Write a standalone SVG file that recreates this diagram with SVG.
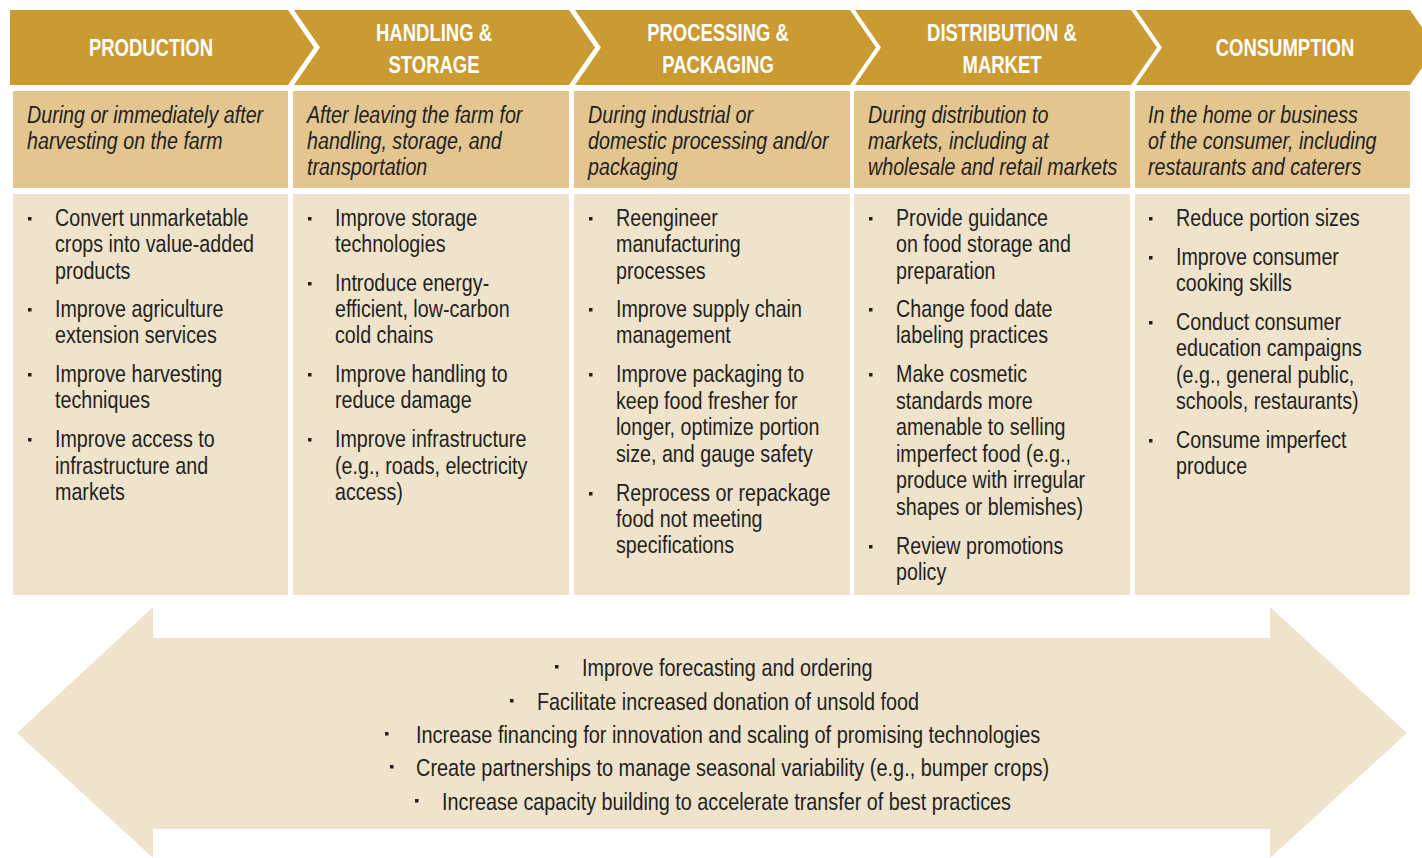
<svg xmlns="http://www.w3.org/2000/svg" width="1422" height="858" viewBox="0 0 1422 858">
<style>
.hdr{fill:#CA9A33}
.desc{fill:#E3C590}
.body{fill:#F0E3CB}
.ht{font-family:"Liberation Sans",Arial,sans-serif;font-weight:bold;font-size:24px;fill:#ffffff;text-anchor:middle}
.it{font-family:"Liberation Sans",Arial,sans-serif;font-style:italic;font-size:24px;fill:#231F20}
.bt{font-family:"Liberation Sans",Arial,sans-serif;font-size:24px;fill:#231F20}
.bl{fill:#231F20}
</style>
<rect width="1422" height="858" fill="#ffffff"/>
<g id="arrow-bottom">
<polygon class="body" points="17,733 153,607 153,638 1270,638 1270,607 1407,733 1270,858 1270,829 153,829 153,858"/>
<g class="bl">
<rect x="555" y="665" width="3.5" height="3.5"/><rect x="510" y="699" width="3.5" height="3.5"/><rect x="385" y="732" width="3.5" height="3.5"/><rect x="390" y="765" width="3.5" height="3.5"/><rect x="415" y="799" width="3.5" height="3.5"/>
</g>
<g transform="translate(582 0) scale(0.825 1)"><text class="bt" x="0" y="676">Improve forecasting and ordering</text></g>
<g transform="translate(537 0) scale(0.825 1)"><text class="bt" x="0" y="710">Facilitate increased donation of unsold food</text></g>
<g transform="translate(416 0) scale(0.83 1)"><text class="bt" x="0" y="743">Increase financing for innovation and scaling of promising technologies</text></g>
<g transform="translate(416 0) scale(0.83 1)"><text class="bt" x="0" y="776">Create partnerships to manage seasonal variability (e.g., bumper crops)</text></g>
<g transform="translate(442 0) scale(0.825 1)"><text class="bt" x="0" y="810">Increase capacity building to accelerate transfer of best practices</text></g>
</g>
<g id="col-production">
<polygon class="hdr" points="10,10 288,10 314,47.5 288,85 10,85"/>
<g transform="translate(151 0) scale(0.77 1)"><text class="ht" x="0" y="56">PRODUCTION</text></g>
<rect class="desc" x="13" y="91" width="275" height="97"/>
<g transform="translate(27 0) scale(0.82 1)">
<text class="it" x="0" y="123">During or immediately after</text>
<text class="it" x="0" y="149">harvesting on the farm</text>
</g>
<rect class="body" x="13" y="194" width="275" height="401"/>
<g class="bl"><rect x="28" y="217" width="3.5" height="3.5"/><rect x="28" y="308" width="3.5" height="3.5"/><rect x="28" y="373" width="3.5" height="3.5"/><rect x="28" y="438" width="3.5" height="3.5"/></g>
<g transform="translate(55 0) scale(0.82 1)">
<text class="bt" x="0" y="226">Convert unmarketable</text>
<text class="bt" x="0" y="252">crops into value-added</text>
<text class="bt" x="0" y="279">products</text>
<text class="bt" x="0" y="317">Improve agriculture</text>
<text class="bt" x="0" y="343">extension services</text>
<text class="bt" x="0" y="382">Improve harvesting</text>
<text class="bt" x="0" y="408">techniques</text>
<text class="bt" x="0" y="447">Improve access to</text>
<text class="bt" x="0" y="474">infrastructure and</text>
<text class="bt" x="0" y="500">markets</text>
</g>
</g>
<g id="col-handling">
<polygon class="hdr" points="294,10 569,10 595,47.5 569,85 294,85 320,47.5"/>
<g transform="translate(434 0) scale(0.77 1)">
<text class="ht" x="0" y="41">HANDLING &amp;</text>
<text class="ht" x="0" y="73">STORAGE</text>
</g>
<rect class="desc" x="293" y="91" width="276" height="97"/>
<g transform="translate(307 0) scale(0.82 1)">
<text class="it" x="0" y="123">After leaving the farm for</text>
<text class="it" x="0" y="149">handling, storage, and</text>
<text class="it" x="0" y="175">transportation</text>
</g>
<rect class="body" x="293" y="194" width="276" height="401"/>
<g class="bl"><rect x="308" y="217" width="3.5" height="3.5"/><rect x="308" y="282" width="3.5" height="3.5"/><rect x="308" y="373" width="3.5" height="3.5"/><rect x="308" y="438" width="3.5" height="3.5"/></g>
<g transform="translate(335 0) scale(0.82 1)">
<text class="bt" x="0" y="226">Improve storage</text>
<text class="bt" x="0" y="252">technologies</text>
<text class="bt" x="0" y="291">Introduce energy-</text>
<text class="bt" x="0" y="317">efficient, low-carbon</text>
<text class="bt" x="0" y="343">cold chains</text>
<text class="bt" x="0" y="382">Improve handling to</text>
<text class="bt" x="0" y="408">reduce damage</text>
<text class="bt" x="0" y="447">Improve infrastructure</text>
<text class="bt" x="0" y="474">(e.g., roads, electricity</text>
<text class="bt" x="0" y="500">access)</text>
</g>
</g>
<g id="col-processing">
<polygon class="hdr" points="575,10 850,10 876,47.5 850,85 575,85 601,47.5"/>
<g transform="translate(718 0) scale(0.77 1)">
<text class="ht" x="0" y="41">PROCESSING &amp;</text>
<text class="ht" x="0" y="73">PACKAGING</text>
</g>
<rect class="desc" x="574" y="91" width="276" height="97"/>
<g transform="translate(588 0) scale(0.82 1)">
<text class="it" x="0" y="123">During industrial or</text>
<text class="it" x="0" y="149">domestic processing and/or</text>
<text class="it" x="0" y="175">packaging</text>
</g>
<rect class="body" x="574" y="194" width="276" height="401"/>
<g class="bl"><rect x="589" y="217" width="3.5" height="3.5"/><rect x="589" y="308" width="3.5" height="3.5"/><rect x="589" y="373" width="3.5" height="3.5"/><rect x="589" y="492" width="3.5" height="3.5"/></g>
<g transform="translate(616 0) scale(0.82 1)">
<text class="bt" x="0" y="226">Reengineer</text>
<text class="bt" x="0" y="252">manufacturing</text>
<text class="bt" x="0" y="279">processes</text>
<text class="bt" x="0" y="317">Improve supply chain</text>
<text class="bt" x="0" y="343">management</text>
<text class="bt" x="0" y="382">Improve packaging to</text>
<text class="bt" x="0" y="409">keep food fresher for</text>
<text class="bt" x="0" y="435">longer, optimize portion</text>
<text class="bt" x="0" y="462">size, and gauge safety</text>
<text class="bt" x="0" y="501">Reprocess or repackage</text>
<text class="bt" x="0" y="527">food not meeting</text>
<text class="bt" x="0" y="553">specifications</text>
</g>
</g>
<g id="col-distribution">
<polygon class="hdr" points="855,10 1131,10 1157,47.5 1131,85 855,85 881,47.5"/>
<g transform="translate(1002 0) scale(0.77 1)">
<text class="ht" x="0" y="41">DISTRIBUTION &amp;</text>
<text class="ht" x="0" y="73">MARKET</text>
</g>
<rect class="desc" x="854" y="91" width="276" height="97"/>
<g transform="translate(868 0) scale(0.82 1)">
<text class="it" x="0" y="123">During distribution to</text>
<text class="it" x="0" y="149">markets, including at</text>
<text class="it" x="0" y="175">wholesale and retail markets</text>
</g>
<rect class="body" x="854" y="194" width="276" height="401"/>
<g class="bl"><rect x="869" y="217" width="3.5" height="3.5"/><rect x="869" y="308" width="3.5" height="3.5"/><rect x="869" y="373" width="3.5" height="3.5"/><rect x="869" y="545" width="3.5" height="3.5"/></g>
<g transform="translate(896 0) scale(0.82 1)">
<text class="bt" x="0" y="226">Provide guidance</text>
<text class="bt" x="0" y="252">on food storage and</text>
<text class="bt" x="0" y="279">preparation</text>
<text class="bt" x="0" y="317">Change food date</text>
<text class="bt" x="0" y="343">labeling practices</text>
<text class="bt" x="0" y="382">Make cosmetic</text>
<text class="bt" x="0" y="409">standards more</text>
<text class="bt" x="0" y="435">amenable to selling</text>
<text class="bt" x="0" y="462">imperfect food (e.g.,</text>
<text class="bt" x="0" y="488">produce with irregular</text>
<text class="bt" x="0" y="515">shapes or blemishes)</text>
<text class="bt" x="0" y="554">Review promotions</text>
<text class="bt" x="0" y="580">policy</text>
</g>
</g>
<g id="col-consumption">
<polygon class="hdr" points="1136,10 1410,10 1436,47.5 1410,85 1136,85 1162,47.5"/>
<g transform="translate(1285 0) scale(0.77 1)"><text class="ht" x="0" y="56">CONSUMPTION</text></g>
<rect class="desc" x="1135" y="91" width="275" height="97"/>
<g transform="translate(1148 0) scale(0.82 1)">
<text class="it" x="0" y="123">In the home or business</text>
<text class="it" x="0" y="149">of the consumer, including</text>
<text class="it" x="0" y="175">restaurants and caterers</text>
</g>
<rect class="body" x="1135" y="194" width="275" height="401"/>
<g class="bl"><rect x="1149" y="217" width="3.5" height="3.5"/><rect x="1149" y="256" width="3.5" height="3.5"/><rect x="1149" y="321" width="3.5" height="3.5"/><rect x="1149" y="439" width="3.5" height="3.5"/></g>
<g transform="translate(1176 0) scale(0.82 1)">
<text class="bt" x="0" y="226">Reduce portion sizes</text>
<text class="bt" x="0" y="265">Improve consumer</text>
<text class="bt" x="0" y="291">cooking skills</text>
<text class="bt" x="0" y="330">Conduct consumer</text>
<text class="bt" x="0" y="356">education campaigns</text>
<text class="bt" x="0" y="383">(e.g., general public,</text>
<text class="bt" x="0" y="409">schools, restaurants)</text>
<text class="bt" x="0" y="448">Consume imperfect</text>
<text class="bt" x="0" y="474">produce</text>
</g>
</g>
<g id="connectors"></g>
</svg>
